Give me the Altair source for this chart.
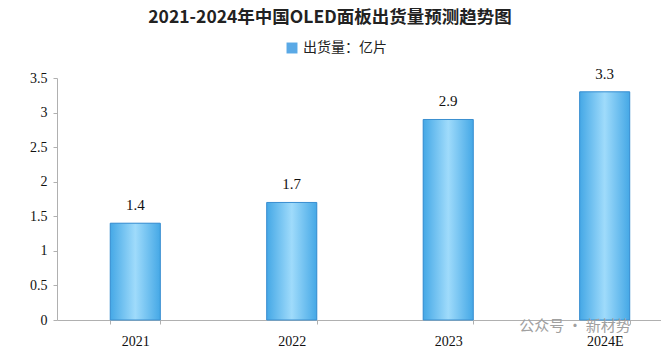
import altair as alt
import pandas as pd

years = ["2021", "2022", "2023", "2024E"]
values = [1.4, 1.7, 2.9, 3.3]
series = "出货量：亿片"
title_text = "2021-2024年中国OLED面板出货量预测趋势图"
watermark = "公众号 · 新材势"

df = pd.DataFrame({"year": years, "value": values, "series": [series] * len(years)})

FONT = "Liberation Serif, DejaVu Serif, Noto Sans CJK SC"

x = alt.X("year:N", sort=years, title=None,
          scale=alt.Scale(paddingInner=0.68, paddingOuter=0.27, align=0.63),
          axis=alt.Axis(labelAngle=0, labelFont=FONT, labelFontSize=14, labelColor="#111",
                        labelPadding=10, domainColor="#b0b0b0", tickColor="#b0b0b0",
                        tickSize=4, tickBand="extent", grid=False))
y = alt.Y("value:Q", title=None,
          scale=alt.Scale(domain=[0, 3.5], nice=False),
          axis=alt.Axis(values=[0, 0.5, 1, 1.5, 2, 2.5, 3, 3.5], format="~g", labelFont=FONT,
                        labelFontSize=14, labelColor="#111", labelPadding=6,
                        domainColor="#b0b0b0", tickColor="#b0b0b0", tickSize=4, grid=False))

base = alt.Chart(df)

legend_bars = base.mark_bar(color="#5aa9e6").encode(
    x=x, y=y,
    color=alt.Color("series:N", title=None,
                    scale=alt.Scale(range=["#5aa9e6"]),
                    legend=alt.Legend(orient="none", legendX=228, legendY=-37,
                                      symbolType="square", symbolSize=120,
                                      labelFont="Noto Sans CJK SC", labelFontSize=14,
                                      labelColor="#222")))

grad = alt.Gradient(
    gradient="linear", x1=0, x2=1, y1=0, y2=0,
    stops=[alt.GradientStop(offset=0, color="#45a8e6"),
           alt.GradientStop(offset=0.5, color="#9fdbfb"),
           alt.GradientStop(offset=1, color="#45a8e6")])

bars = base.mark_bar(color=grad, stroke="#3b8fd0", strokeWidth=1).encode(x=x, y=y)

labels = base.mark_text(dy=-18, font=FONT, fontSize=15, color="#111").encode(
    x=x, y=y, text=alt.Text("value:Q", format=".1f"))

wm = alt.Chart(pd.DataFrame({"t": [watermark]})).mark_text(
    font="Noto Sans CJK SC", fontSize=15, color="#a0a0a0", align="center",
    baseline="middle").encode(
    x=alt.value(518), y=alt.value(248), text="t:N")

chart = alt.layer(legend_bars, bars, labels, wm).properties(
    width=604, height=242,
    title=alt.Title(title_text, font="Noto Sans CJK SC", fontSize=17.5, fontWeight="bold",
                    color="#222", anchor="middle", offset=15, dx=-29),
    padding={"left": 57, "top": 78, "right": 0, "bottom": 40},
    autosize=alt.AutoSizeParams(type="none"),
    background="white",
).configure_view(stroke=None)

chart.save("out.html", embed_options={"renderer": "svg", "actions": False})
